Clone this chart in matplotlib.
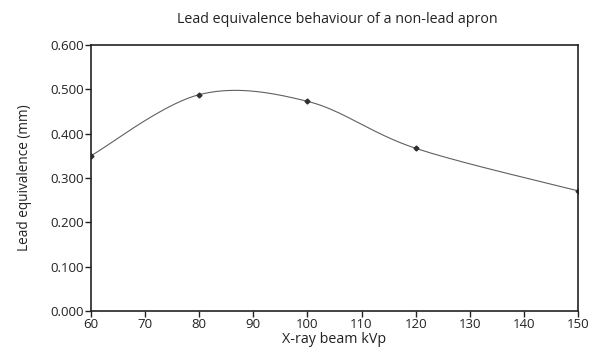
import numpy as np
import matplotlib
matplotlib.use("Agg")
import matplotlib.pyplot as plt

kvp = [60, 80, 100, 120, 150]
lead_eq = [0.350, 0.488, 0.473, 0.367, 0.271]

plt.rcParams['font.family'] = ['Open Sans', 'DejaVu Sans']


def smooth_curve(xs, ys, n=40):
    """Bezier smoothing through the points (spreadsheet-style smoothed line)."""
    pts = np.column_stack([xs, ys]).astype(float)
    ext = np.vstack([pts[0], pts, pts[-1]])
    out = []
    t = np.linspace(0, 1, n)[:, None]
    for i in range(len(pts) - 1):
        p0, p3 = ext[i + 1], ext[i + 2]
        c1 = p0 + (ext[i + 2] - ext[i]) / 6.0
        c2 = p3 - (ext[i + 3] - ext[i + 1]) / 6.0
        seg = ((1 - t) ** 3) * p0 + 3 * ((1 - t) ** 2) * t * c1 + 3 * (1 - t) * t ** 2 * c2 + t ** 3 * p3
        out.append(seg if i == 0 else seg[1:])
    seg = np.vstack(out)
    return seg[:, 0], seg[:, 1]


fig = plt.figure(figsize=(5.98, 3.56), dpi=100)
ax = fig.add_axes([0.152, 0.1264, 0.8146, 0.7472])

sx, sy = smooth_curve(kvp, lead_eq)
ax.plot(sx, sy, color='#606060', lw=0.8)
ax.plot(kvp, lead_eq, ls='none', marker='D', ms=2.5, color='#303030')

ax.set_xlim(60, 150)
ax.set_ylim(0, 0.6)
ax.set_xticks(np.arange(60, 151, 10))
ax.set_yticks(np.arange(0, 0.61, 0.1))
ax.set_yticklabels([f"{v:.3f}" for v in np.arange(0, 0.61, 0.1)])

for s in ax.spines.values():
    s.set_linewidth(1.2)
    s.set_color('#222222')
ax.tick_params(direction='out', length=4, width=1, labelsize=9.5, pad=1, colors='#222222')

fig.text(0.564, 0.944, 'Lead equivalence behaviour of a non-lead apron',
         fontsize=10.3, ha='center', va='center', color='#222222')
ax.set_xlabel('X-ray beam kVp', fontsize=10.3, labelpad=1, color='#222222')
ax.set_ylabel('Lead equivalence (mm)', fontsize=9.8, labelpad=13, color='#222222')

fig.savefig('out.png', dpi=100)
